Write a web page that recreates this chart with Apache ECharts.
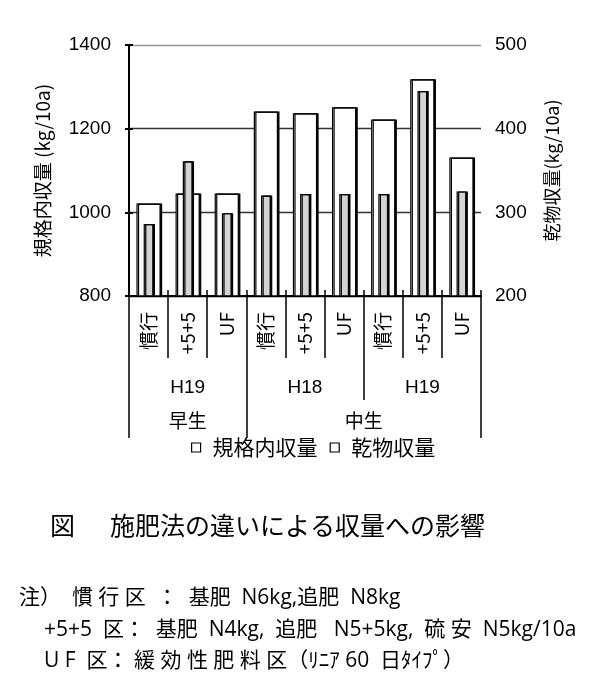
<!DOCTYPE html>
<html><head><meta charset="utf-8">
<script src="https://cdn.jsdelivr.net/npm/echarts@6/dist/echarts.min.js"></script>
<style>html,body{margin:0;padding:0;background:#fff}#c{width:602px;height:696px}</style>
</head><body><div id="c"></div>
<script>
// ---- data ----
const categories = ['慣行', '+5+5', 'UF', '慣行', '+5+5', 'UF', '慣行', '+5+5', 'UF'];
const yieldStd = [1021, 1045, 1045, 1241, 1237, 1251, 1222, 1318, 1131];
const dryMatter = [286, 361, 299, 320, 322, 322, 322, 445, 325];
const yearGroups = ['H19', 'H18', 'H19'];
const yearSpans = [3, 3, 3];
const typeGroups = ['早生', '中生'];
const typeSpans = [3, 6];
const leftAxis = { min: 800, max: 1400, interval: 200, name: '規格内収量 (kg/10a)' };
const rightAxis = { min: 200, max: 500, interval: 100, name: '乾物収量(kg/10a)' };
const seriesNames = ['規格内収量', '乾物収量'];
const titleText = '施肥法の違いによる収量への影響';
const noteLines = ['注）  慣 行 区  ：  基肥  N6kg,追肥  N8kg',
                   '+5+5  区：  基肥  N4kg,  追肥   N5+5kg,  硫 安  N5kg/10a',
                   'U F  区： 緩 効 性 肥 料 区（ﾘﾆｱ 60  日ﾀｲﾌﾟ）'];

function groupInfo(spans) {
  const bounds = [0], centers = [];
  let acc = 0;
  spans.forEach(s => { centers.push(acc + s / 2); acc += s; bounds.push(acc); });
  return { bounds, centers };
}
const yearInfo = groupInfo(yearSpans);
const typeInfo = groupInfo(typeSpans);
const typeOuterBounds = [0, typeInfo.bounds[1], typeInfo.bounds[typeInfo.bounds.length - 1]];

const FONT = '"Noto Sans CJK JP", "Liberation Sans", sans-serif';
const NOTEFONT = '"Open Sans", "Noto Sans CJK JP", sans-serif';
const NUMFONT = '"Liberation Sans", "Noto Sans CJK JP", sans-serif';
const chart = echarts.init(document.getElementById('c'), null, { renderer: 'canvas' });

function groupAxis(info, labels, tickLen, labelMargin, tickVals) {
  return {
    type: 'value', position: 'bottom', offset: 0, gridIndex: 0,
    min: 0, max: categories.length,
    axisLine: { show: false },
    splitLine: { show: false },
    axisTick: { show: true, inside: false, length: tickLen, customValues: tickVals,
                lineStyle: { color: '#000', width: 1.5 } },
    axisLabel: { show: true, customValues: info.centers, margin: labelMargin,
                 fontSize: 19, color: '#000', fontFamily: NUMFONT,
                 formatter: v => { const i = info.centers.findIndex(c => Math.abs(c - v) < 1e-6); return i >= 0 ? labels[i] : ''; } }
  };
}
const tStyle = (size, fam) => ({ fontSize: size, fontWeight: 'normal', color: '#000', fontFamily: fam || FONT });

const option = {
  animation: false,
  backgroundColor: '#fff',
  textStyle: { fontFamily: FONT },
  title: [
    { text: '図', left: 50, top: 513, padding: 0, textStyle: tStyle(25) },
    { text: titleText, left: 110, top: 513, padding: 0, textStyle: tStyle(25) },
    { text: noteLines[0], left: 19, top: 588, padding: 0, textStyle: tStyle(21, NOTEFONT) },
    { text: noteLines[1], left: 44, top: 620, padding: 0, textStyle: tStyle(21, NOTEFONT) },
    { text: noteLines[2], left: 44, top: 651, padding: 0, textStyle: tStyle(21, NOTEFONT) }
  ],
  legend: {
    data: seriesNames.map(n => ({ name: n, itemStyle: { color: '#fff', borderColor: '#000', borderWidth: 1.2, shadowOffsetX: 0, shadowColor: 'transparent' } })),
    left: 191, top: 437, icon: 'rect', itemWidth: 9, itemHeight: 9, itemGap: 12,
    textStyle: { fontSize: 21, color: '#000', fontFamily: FONT, padding: [0, 0, 0, 7] }, padding: 0
  },
  grid: { left: 129, right: 121, top: 45, bottom: 400, containLabel: false },
  xAxis: [
    { type: 'category', data: categories, position: 'bottom', offset: 0, gridIndex: 0,
      axisLine: { show: true, lineStyle: { color: '#000', width: 2 } },
      axisTick: { show: true, inside: false, length: 62, alignWithLabel: false, lineStyle: { color: '#000', width: 1.5 } },
      axisLabel: { rotate: 90, margin: 16, fontSize: 19, color: '#000', fontFamily: FONT, interval: 0 },
      splitLine: { show: false } },
    { type: 'category', data: categories, position: 'bottom', offset: 0, gridIndex: 0,
      axisLine: { show: false },
      axisTick: { show: true, inside: true, length: 6, lineStyle: { color: '#000', width: 1.5 } },
      axisLabel: { show: false }, splitLine: { show: false } },
    groupAxis(yearInfo, yearGroups, 104, 82, yearInfo.bounds),
    groupAxis(typeInfo, typeGroups, 142, 117, typeOuterBounds)
  ],
  yAxis: [
    { type: 'value', position: 'left', min: leftAxis.min, max: leftAxis.max, interval: leftAxis.interval,
      name: leftAxis.name, nameLocation: 'middle', nameGap: 77, nameRotate: 90,
      nameTextStyle: { fontSize: 19, color: '#000', fontFamily: FONT },
      axisLine: { show: true, lineStyle: { color: '#000', width: 1.5 } },
      axisTick: { show: true, inside: true, length: 4, lineStyle: { color: '#000', width: 2 } },
      axisLabel: { fontSize: 19, color: '#000', margin: 18, fontFamily: NUMFONT, formatter: v => String(v) },
      splitLine: { show: true, lineStyle: { color: ['#000', '#333', '#333', '#999'], width: 1.3 } } },
    { type: 'value', position: 'right', min: rightAxis.min, max: rightAxis.max, interval: rightAxis.interval,
      name: rightAxis.name, nameLocation: 'middle', nameGap: 62, nameRotate: 90,
      nameTextStyle: { fontSize: 18, color: '#000', fontFamily: FONT },
      axisLine: { show: true, lineStyle: { color: '#000', width: 2 } },
      axisTick: { show: true, inside: true, length: 4, lineStyle: { color: '#000', width: 2 } },
      axisLabel: { fontSize: 19, color: '#000', margin: 14, fontFamily: NUMFONT, formatter: v => String(v) },
      splitLine: { show: false } }
  ],
  series: [
    { name: seriesNames[0], type: 'bar', xAxisIndex: 0, yAxisIndex: 0, data: yieldStd, barWidth: '62%',
      itemStyle: { color: '#fff', borderColor: '#000', borderWidth: 1.2, shadowColor: '#000', shadowOffsetX: 1.5, shadowBlur: 0 } },
    { name: seriesNames[1], type: 'bar', xAxisIndex: 1, yAxisIndex: 1, data: dryMatter, barWidth: '25%',
      itemStyle: { color: '#d3d3d3', borderColor: '#000', borderWidth: 1.2, shadowColor: '#000', shadowOffsetX: 1.5, shadowBlur: 0 } }
  ]
};
chart.setOption(option);
</script></body></html>
